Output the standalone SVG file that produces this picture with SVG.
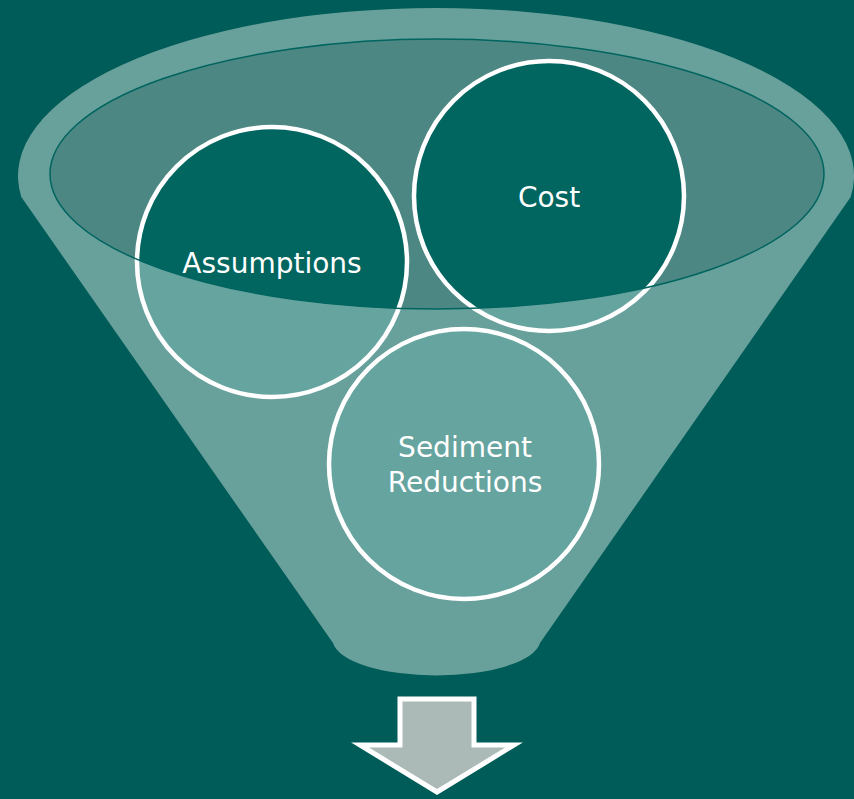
<svg xmlns="http://www.w3.org/2000/svg" width="854" height="799" viewBox="0 0 854 799">
<style>
.bg{fill:#005C58}
.funnel{fill:#68A09C}
.inner{fill:#4D8783}
.rim{fill:none;stroke:#00645F;stroke-width:1.5}
.light{fill:#66A4A0}
.dark{fill:#016560}
.ring{fill:none;stroke:#FFFFFF;stroke-width:4.5}
.lbl{font-family:"DejaVu Sans",Verdana,sans-serif;font-size:28px;fill:#FFFFFF;text-anchor:middle}
.arrow{fill:#ABB9B7;stroke:#FFFFFF;stroke-width:5;stroke-linejoin:miter}
</style>
<defs>
<clipPath id="innerClip"><ellipse cx="437" cy="174" rx="387" ry="135"/></clipPath>
</defs>
<rect class="bg" x="0" y="0" width="854" height="799"/>
<g id="funnel">
<path class="funnel" d="M21.3,197 A418 168 0 1 1 850.7,197 L540,643 A104 36 0 0 1 333,643 Z"/>
<ellipse class="inner" cx="437" cy="174" rx="387" ry="135"/>
</g>
<g id="assumptions">
<circle class="light" cx="272" cy="262" r="135"/>
<circle class="dark" cx="272" cy="262" r="135" clip-path="url(#innerClip)"/>
<circle class="ring" cx="272" cy="262" r="135"/>
<text class="lbl" x="272" y="273">Assumptions</text>
</g>
<g id="cost">
<circle class="light" cx="549" cy="196" r="135"/>
<circle class="dark" cx="549" cy="196" r="135" clip-path="url(#innerClip)"/>
<circle class="ring" cx="549" cy="196" r="135"/>
<text class="lbl" x="549" y="207">Cost</text>
</g>
<ellipse class="rim" cx="437" cy="174" rx="387" ry="135"/>
<g id="sediment">
<circle class="light" cx="464" cy="464" r="135"/>
<circle class="ring" cx="464" cy="464" r="135"/>
<text class="lbl" x="465" y="457">Sediment</text>
<text class="lbl" x="465" y="492">Reductions</text>
</g>
<g id="connectors">
<polygon class="arrow" points="400,699 474,699 474,745 514,745 437,792 360,745 400,745"/>
</g>
</svg>
